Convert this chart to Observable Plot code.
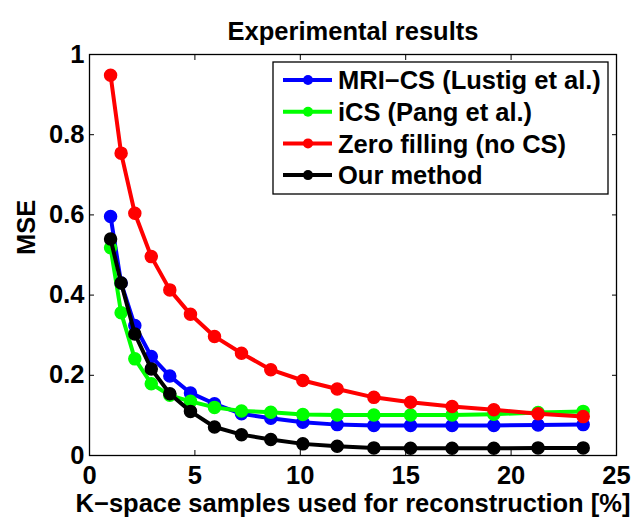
<!DOCTYPE html>
<html><head><meta charset="utf-8">
<script src="https://cdn.jsdelivr.net/npm/d3@7"></script>
<script src="https://cdn.jsdelivr.net/npm/@observablehq/plot@0.6"></script>
<style>
body{margin:0;background:#fff}
#chart svg{font-family:"Liberation Sans",Arial,Helvetica,sans-serif;font-weight:bold}
</style>
</head><body><div id="chart"></div>
<script>
const samples = [1.0, 1.5, 2.15, 2.93, 3.81, 4.79, 5.93, 7.21, 8.6, 10.12, 11.75, 13.49, 15.23, 17.2, 19.18, 21.28, 23.42];
const mriCS = [0.596, 0.43, 0.324, 0.247, 0.198, 0.156, 0.129, 0.104, 0.093, 0.083, 0.077, 0.075, 0.075, 0.075, 0.075, 0.076, 0.077];
const iCS = [0.518, 0.356, 0.241, 0.179, 0.150, 0.135, 0.120, 0.111, 0.108, 0.102, 0.101, 0.101, 0.101, 0.101, 0.103, 0.107, 0.110];
const zeroFill = [0.948, 0.754, 0.604, 0.496, 0.413, 0.352, 0.297, 0.255, 0.214, 0.187, 0.166, 0.145, 0.133, 0.122, 0.114, 0.104, 0.097];
const ourMethod = [0.540, 0.430, 0.303, 0.216, 0.154, 0.110, 0.071, 0.052, 0.040, 0.029, 0.023, 0.019, 0.018, 0.018, 0.018, 0.019, 0.019];
const seriesNames = ["MRI\u2212CS (Lustig et al.)", "iCS (Pang et al.)", "Zero filling (no CS)", "Our method"];
const seriesColors = ["#0000ff", "#00ff00", "#ff0000", "#000000"];
const xTicks = [0, 5, 10, 15, 20, 25];
const yTicks = [0, 0.2, 0.4, 0.6, 0.8, 1];
const titleText = "Experimental results";
const xLabel = "K\u2212space samples used for reconstruction [%]";
const yLabel = "MSE";

const seriesValues = [mriCS, iCS, zeroFill, ourMethod];
const series = seriesNames.map((name, k) => ({
  name, color: seriesColors[k],
  rows: samples.map((x, i) => ({x, y: seriesValues[k][i], name}))
}));

const FS = 25.5;
const plot = Plot.plot({
  width: 641, height: 517,
  marginLeft: 89, marginRight: 25, marginTop: 54, marginBottom: 62,
  style: {fontFamily: '"Liberation Sans", Arial, sans-serif', fontWeight: "bold", fontSize: FS + "px", background: "white", overflow: "visible", color: "black"},
  x: {domain: [0, 25]},
  y: {domain: [0, 1]},
  marks: [
    ...series.flatMap(s => [
      Plot.line(s.rows, {x: "x", y: "y", stroke: s.color, strokeWidth: 4, strokeLinejoin: "round"}),
      Plot.dot(s.rows, {x: "x", y: "y", fill: s.color, stroke: s.color, r: 6})
    ]),
    Plot.frame({stroke: "black", strokeWidth: 1.3}),
    Plot.axisX(xTicks, {anchor: "bottom", tickSize: 0, tickPadding: 10, fontSize: FS, label: null}),
    Plot.axisY(yTicks, {anchor: "left", tickSize: 0, tickPadding: 5, fontSize: FS, label: null, tickFormat: d => String(d)}),
    Plot.axisX(xTicks, {anchor: "bottom", tickSize: -5, tickFormat: () => "", label: null}),
    Plot.axisX(xTicks, {anchor: "top", tickSize: -5, tickFormat: () => "", label: null}),
    Plot.axisY(yTicks, {anchor: "left", tickSize: -5, tickFormat: () => "", label: null}),
    Plot.axisY(yTicks, {anchor: "right", tickSize: -5, tickFormat: () => "", label: null}),
    Plot.text([titleText], {frameAnchor: "top", lineAnchor: "middle", dy: -23, fontSize: FS, fontWeight: "bold", text: d => d}),
    Plot.text([xLabel], {frameAnchor: "bottom", lineAnchor: "middle", dy: 48, fontSize: FS, fontWeight: "bold", text: d => d}),
    Plot.text([yLabel], {frameAnchor: "left", lineAnchor: "middle", dx: -63, rotate: -90, fontSize: FS, fontWeight: "bold", text: d => d})
  ]
});
document.getElementById("chart").appendChild(plot);

// legend (MATLAB-style box)
const svg = d3.select(plot);
const lg = svg.append("g").attr("class", "legend");
const lx = 273, ly = 62, lw = 335, lh = 132;
lg.append("rect").attr("x", lx).attr("y", ly).attr("width", lw).attr("height", lh)
  .attr("fill", "white").attr("stroke", "black").attr("stroke-width", 1.3);
series.forEach((s, i) => {
  const cy = 80 + i * 31.7;
  lg.append("line").attr("x1", 283).attr("x2", 332).attr("y1", cy).attr("y2", cy)
    .attr("stroke", s.color).attr("stroke-width", 4);
  lg.append("circle").attr("cx", 308).attr("cy", cy).attr("r", 5).attr("fill", s.color);
  lg.append("text").attr("x", 338).attr("y", cy).attr("dy", "0.36em")
    .attr("text-anchor", "start")
    .attr("font-size", FS).attr("font-weight", "bold").attr("fill", "black").text(s.name);
});
</script>
</body></html>
